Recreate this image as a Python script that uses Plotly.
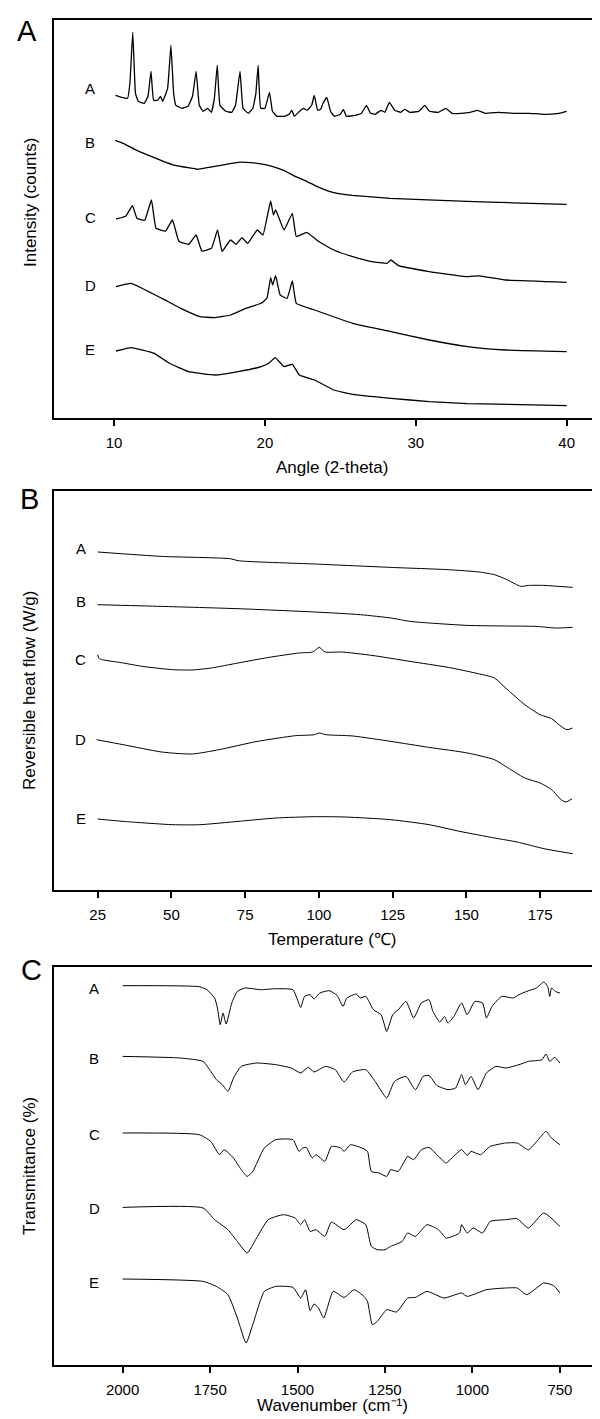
import plotly.graph_objects as go

W, H = 600, 1419

# ---------------- Panel A: XRD (angle 2-theta, intensity offset) ----------------
xrd_A_x = [10.1, 10.5, 10.9, 11.05, 11.24, 11.42, 11.6, 12.0, 12.25, 12.45, 12.62, 12.9, 13.08, 13.22,
           13.55, 13.77, 13.95, 14.1, 14.5, 14.9, 15.2, 15.44, 15.65, 15.9, 16.2, 16.45, 16.65, 16.84,
           17.02, 17.4, 17.8, 18.05, 18.35, 18.55, 18.9, 19.2, 19.4, 19.55, 19.72, 20.0, 20.3, 20.5,
           20.8, 21.3, 21.6, 21.78, 21.95, 22.3, 22.55, 22.8, 23.1, 23.27, 23.5, 23.7, 23.85, 24.1,
           24.35, 24.6, 25.0, 25.2, 25.4, 26.0, 26.4, 26.73, 27.0, 27.3, 27.7, 27.95, 28.25, 28.6,
           29.0, 29.27, 29.6, 30.2, 30.6, 30.9, 31.5, 32.0, 32.4, 33.0, 33.6, 34.1, 34.6, 35.5,
           36.5, 37.5, 38.5, 39.5, 40.0]
xrd_A_y = [322, 320, 319, 334, 385, 324, 316, 314, 321, 346, 317, 317, 321, 316,
           329, 372, 324, 312, 309, 311, 321, 346, 312, 306, 309, 305, 319, 352,
           312, 306, 305, 312, 346, 309, 304, 309, 324, 352, 309, 309, 325, 306,
           301, 301, 303, 307, 301, 306, 309, 307, 312, 322, 307, 308, 314, 320,
           306, 301, 303, 308, 301, 302, 304, 312, 304, 303, 307, 305, 315, 307,
           305, 308, 305, 306, 312, 306, 305, 309, 304, 304, 305, 307, 304, 305,
           304, 304, 303, 304, 306]

xrd_B_x = [10.08, 10.61, 11.37, 12.13, 13.11, 14.03, 15.16, 15.54, 16.3, 17.44, 18.2, 18.73, 19.72,
           20.48, 21.24, 22.0, 22.76, 23.29, 23.9, 24.5, 25.8, 28.3, 30.8, 33.4, 36.4, 40.0]
xrd_B_y = [277, 274, 268, 263, 257, 252, 249, 248, 250, 253, 255, 255, 253.5,
           251, 247, 241, 236, 232, 228, 225, 222, 219, 217.5, 216, 214.5, 213]

xrd_C_x = [10.13, 10.76, 11.22, 11.52, 12.03, 12.48, 12.78, 13.42, 13.87, 14.3, 14.94, 15.44, 15.82,
           16.46, 16.86, 17.16, 17.72, 18.1, 18.48, 18.86, 19.49, 19.87, 20.38, 20.56, 20.71, 21.27,
           21.82, 22.08, 22.78, 23.54, 24.56, 25.82, 27.09, 28.1, 28.35, 28.86, 30.89, 33.42, 34.18,
           35.95, 40.0]
xrd_C_y = [198.3, 201, 211.7, 199, 197, 217.3, 189, 186.3, 197.3, 176, 173, 182.3, 166.3,
           169, 187.3, 165.7, 177.3, 173, 179.7, 174, 187.3, 182.3, 216.3, 202.3, 207.3, 187.3,
           204, 180.7, 185, 176, 167.3, 160.7, 155.7, 154, 157.3, 151.7, 145.7, 140.7, 141.5,
           137.3, 135]

xrd_D_x = [10.13, 11.14, 13.16, 14.43, 15.7, 16.71, 17.72, 18.73, 19.75, 20.13, 20.38, 20.51, 20.71,
           21.01, 21.47, 21.82, 22.08, 23.29, 25.82, 28.35, 30.89, 33.42, 35.95, 40.0]
xrd_D_y = [130.7, 134, 119, 109, 100.7, 99.7, 102.3, 109, 114, 119, 139.7, 132.3, 141.7,
           122.3, 119, 136.3, 114, 107.3, 94, 85.7, 77.3, 70.7, 67.3, 65.7]

xrd_E_x = [10.13, 11.14, 12.66, 13.67, 14.94, 16.71, 18.23, 19.75, 20.25, 20.68, 21.27, 21.82, 22.28,
           23.29, 24.56, 25.82, 28.35, 30.89, 33.42, 40.0]
xrd_E_y = [66.3, 69.7, 64, 54, 45.7, 42.3, 45.7, 50.7, 54, 59.7, 50.7, 53, 42.3,
           37.3, 27.3, 23, 19, 15.7, 13.7, 11.7]

xrd_labels = ["A", "B", "C", "D", "E"]
xrd_ticks = [10, 20, 30, 40]

# ---------------- Panel B: reversible heat flow ----------------
dsc_A_x = [25, 46.7, 70, 72.6, 98.5, 124.4, 143.9, 154.3, 159.5, 163.3, 166.6, 168.5, 171.1, 176.3, 186]
dsc_A_y = [337.7, 333.3, 331, 329, 325.7, 322.3, 320, 317.7, 315, 310.7, 305.7, 303.3, 304.3, 304.3, 302.3]

dsc_B_x = [25, 46.7, 72.6, 98.5, 114.1, 124.4, 130.9, 137.4, 150.4, 163.3, 173.7, 180.2, 186]
dsc_B_y = [285, 283.3, 281, 277.7, 275, 271.7, 268.3, 266.7, 264.3, 263.7, 263.3, 261.7, 262.3]

dsc_C_x = [25, 25.4, 26.6, 33.7, 40.2, 50.5, 57, 63.5, 72.6, 83, 93.3, 97.9, 100.1, 102.1, 107.6,
           118, 130.9, 143.9, 153, 159.5, 163.3, 169.8, 175, 178.9, 182.1, 184.1, 186]
dsc_C_y = [235, 231.5, 230, 226.7, 223.3, 220, 219.7, 221.7, 226.7, 232.3, 236.7, 237.7, 242.3, 237.7, 237.7,
           234.3, 228.3, 222.3, 216.7, 211.7, 201.7, 185, 175, 171, 163.3, 160, 161.7]

dsc_D_x = [24.6, 33.7, 46.7, 57, 66.1, 79.1, 92, 98.5, 100.1, 102.4, 111.5, 124.4, 137.4, 150.4,
           159.5, 163.3, 169.8, 175, 178.9, 182.1, 183.8, 185.8]
dsc_D_y = [150, 145, 137.7, 135.7, 140, 148.3, 154, 155, 156.7, 155, 153.7, 148.3, 142.3, 136.7,
           130, 123.3, 111.7, 106.7, 100, 90, 87.7, 91]

dsc_E_x = [25, 33.7, 50.5, 59.6, 72.6, 85.5, 98.5, 108.9, 124.4, 137.4, 147.8, 159.5, 167.2, 176.3, 186]
dsc_E_y = [70.7, 68.3, 65, 65, 68.3, 71.7, 73, 72.7, 70, 65, 58.3, 51.7, 47.7, 41, 36]

dsc_ticks = [25, 50, 75, 100, 125, 150, 175]

# ---------------- Panel C: FTIR transmittance ----------------
ir_A_x = [2000, 1781, 1759, 1737, 1729, 1721, 1713, 1704, 1688, 1672, 1650, 1606, 1562, 1513, 1502,
          1491, 1480, 1464, 1453, 1436, 1409, 1387, 1370, 1359, 1332, 1321, 1305, 1283, 1261, 1245,
          1228, 1212, 1190, 1168, 1146, 1124, 1113, 1093, 1080, 1070, 1053, 1031, 1015, 993, 971,
          960, 944, 916, 883, 867, 845, 817, 796, 785, 779, 774, 763, 750]
ir_A_y = [379, 378, 375, 366.7, 356.7, 340, 351.7, 340.7, 361.7, 373.3, 376.7, 375, 376, 375, 366.7,
          357.3, 368.3, 370, 365.7, 371.7, 374, 369.3, 358.3, 366.7, 370.7, 366.7, 368.3, 355, 350, 333.3,
          350, 355, 363.3, 346.7, 361.7, 365, 353.3, 342.7, 348.3, 341.7, 348.3, 361.7, 350, 363.3, 361.7,
          346.7, 358.3, 368.3, 366.7, 370, 373.3, 376.7, 382.7, 378.3, 368.3, 376.7, 373.3, 371.7]

ir_B_x = [2000, 1836, 1770, 1748, 1732, 1715, 1699, 1683, 1661, 1617, 1562, 1518, 1491, 1469, 1453,
          1420, 1392, 1367, 1343, 1305, 1278, 1245, 1223, 1190, 1163, 1141, 1124, 1102, 1070, 1048,
          1031, 1020, 1004, 984, 960, 933, 905, 867, 840, 801, 790, 779, 765, 750]
ir_B_y = [308.3, 306.7, 303.3, 293.3, 285, 280, 273.3, 286.7, 298.3, 301.7, 300, 296.7, 291.7, 297.5, 292.7,
          298.3, 295, 282.7, 292.7, 295, 283.3, 266.7, 283.3, 288.3, 275, 288.3, 289.3, 279.3, 275, 276.7,
          290, 280, 288.3, 275, 291.7, 298.3, 296.7, 300, 303.3, 305, 310.7, 303.3, 307.3, 301.7]

ir_C_x = [2000, 1781, 1748, 1723, 1710, 1683, 1661, 1644, 1628, 1595, 1562, 1513, 1496, 1485, 1475,
          1458, 1447, 1422, 1403, 1376, 1367, 1349, 1316, 1300, 1289, 1267, 1245, 1234, 1212, 1185,
          1168, 1146, 1124, 1097, 1075, 1059, 1031, 1015, 1004, 977, 949, 905, 872, 840, 812, 790,
          774, 750]
ir_C_y = [231.7, 230, 223.3, 210, 215, 206.7, 195, 188.3, 193.3, 216.7, 225, 225, 213.3, 216.7, 217.3,
          206.7, 210, 203.3, 218.3, 216.7, 213.3, 220, 216.7, 213.3, 193.3, 191.7, 188.3, 195, 193.3, 208.3,
          205, 215, 217.3, 208.3, 201.7, 206.7, 215, 209.3, 213.3, 210, 218.3, 221.7, 221.7, 215, 225, 233.3,
          226.7, 220]

ir_D_x = [2000, 1770, 1737, 1699, 1672, 1644, 1617, 1584, 1540, 1507, 1491, 1480, 1464, 1447, 1422,
          1403, 1367, 1332, 1305, 1289, 1272, 1250, 1234, 1201, 1185, 1163, 1130, 1097, 1075, 1037,
          1031, 1015, 998, 971, 949, 905, 872, 840, 796, 750]
ir_D_y = [157.3, 156.7, 145, 135, 123.3, 111.7, 126.7, 145, 150, 146.7, 140, 145, 133.3, 135, 128.3,
          142.7, 135, 145, 140, 118.3, 115, 115, 118.3, 123.3, 131.7, 128.3, 140, 135, 126.7, 131.7,
          140, 131.7, 136.7, 131.7, 143.3, 145, 146, 136.7, 151.7, 138.3]

ir_E_x = [2000, 1770, 1732, 1699, 1672, 1647, 1628, 1595, 1562, 1513, 1491, 1477, 1464, 1453, 1440,
          1425, 1398, 1367, 1338, 1310, 1300, 1286, 1272, 1245, 1217, 1185, 1163, 1130, 1081, 1031,
          1015, 960, 905, 872, 845, 796, 768, 750]
ir_E_y = [85.7, 83.3, 78.3, 70, 46.7, 21.7, 40, 73.3, 78.3, 77.3, 66.7, 75, 54, 60.7, 56.7,
          46.7, 73.3, 67.3, 75, 68.3, 63.3, 40, 43.3, 55, 52.7, 66.7, 67.3, 73.3, 66.7, 71.7,
          68.3, 75, 76.7, 76.7, 70, 81.7, 79.2, 71.7]

ir_ticks = [2000, 1750, 1500, 1250, 1000, 750]

# ---------------- layout helpers (pixel geometry) ----------------
def py(y):
    return 1 - y / H

def px(x):
    return x / W

FONT = "Liberation Sans, Arial, Helvetica, sans-serif"
LEFT = 45.7
panels = [
    dict(top=12, bot=410, xr=[6.0, 42.74], yr=[-0.7, 397.3]),
    dict(top=483.3, bot=881.7, xr=[10.1, 198.0], yr=[0, 398.4]),
    dict(top=959.3, bot=1356.7, xr=[2197, 612.5], yr=[0, 397.4]),
]

fig = go.Figure()

def add(xs, ys, idx, w=1.0, smooth=0.4):
    fig.add_trace(go.Scatter(x=xs, y=ys, mode="lines",
                             line=dict(color="black", width=w, shape="spline", smoothing=smooth),
                             xaxis="x" if idx == 1 else f"x{idx}",
                             yaxis="y" if idx == 1 else f"y{idx}",
                             showlegend=False, hoverinfo="skip"))

for xs, ys in [(xrd_A_x, xrd_A_y), (xrd_B_x, xrd_B_y), (xrd_C_x, xrd_C_y), (xrd_D_x, xrd_D_y), (xrd_E_x, xrd_E_y)]:
    add(xs, ys, 1, 1.3, 0.3)
for xs, ys in [(dsc_A_x, dsc_A_y), (dsc_B_x, dsc_B_y), (dsc_C_x, dsc_C_y), (dsc_D_x, dsc_D_y), (dsc_E_x, dsc_E_y)]:
    add(xs, ys, 2, 1.0, 0.6)
for xs, ys in [(ir_A_x, ir_A_y), (ir_B_x, ir_B_y), (ir_C_x, ir_C_y), (ir_D_x, ir_D_y), (ir_E_x, ir_E_y)]:
    add(xs, ys, 3, 1.0, 0.5)

layout = dict(width=W, height=H, margin=dict(l=0, r=0, t=0, b=0),
              plot_bgcolor="white", paper_bgcolor="white",
              font=dict(family=FONT, color="black"), showlegend=False)

tick_sets = [xrd_ticks, dsc_ticks, ir_ticks]
for i, p in enumerate(panels, start=1):
    xa = "xaxis" if i == 1 else f"xaxis{i}"
    ya = "yaxis" if i == 1 else f"yaxis{i}"
    layout[xa] = dict(domain=[px(LEFT), 1.0], range=p["xr"], anchor="y" if i == 1 else f"y{i}",
                      showline=True, linecolor="black", linewidth=1.8, mirror=True,
                      ticks="outside", ticklen=6, tickwidth=1.5, tickcolor="black",
                      tickvals=tick_sets[i - 1], ticktext=[str(t) for t in tick_sets[i - 1]],
                      tickfont=dict(size=15, family=FONT), showgrid=False, zeroline=False,
                      ticklabelstandoff=4)
    layout[ya] = dict(domain=[py(p["bot"]), py(p["top"])], range=p["yr"],
                      anchor="x" if i == 1 else f"x{i}",
                      showline=True, linecolor="black", linewidth=1.8, mirror=False,
                      ticks="", showticklabels=False, showgrid=False, zeroline=False)
fig.update_layout(**layout)

ann = []
def txt(x, y, s, size, angle=0, yanchor="middle"):
    ann.append(dict(x=px(x), y=py(y), xref="paper", yref="paper", text=s, showarrow=False,
                    font=dict(size=size, family=FONT, color="black"), textangle=angle,
                    xanchor="center", yanchor=yanchor, borderpad=0))

# panel letters
txt(19, 23, "A", 29)
txt(21, 491, "B", 29)
txt(23, 962, "C", 29)

# axis titles
txt(324, 460, "Angle (2-theta)", 17)
txt(22, 195, "Intensity (counts)", 17, -90)
txt(324, 931.7, "Temperature (\u2103)", 17)
txt(21, 683, "Reversible heat flow (W/g)", 17, -90)
txt(324, 1397, "Wavenumber (cm\u207b\u00b9)", 17)
txt(21, 1158, "Transmittance (%)", 17, -90)

# curve labels
for lab, y in zip(xrd_labels, [81, 135, 209, 277, 341]):
    txt(82, y, lab, 15)
for lab, y in zip(xrd_labels, [540, 593.3, 651.7, 731.7, 810.7]):
    txt(72.5, y, lab, 15)
for lab, y in zip(xrd_labels, [980.7, 1050, 1126.7, 1200, 1274]):
    txt(86, y, lab, 15)

fig.update_layout(annotations=ann)
fig.write_html("out.html")
